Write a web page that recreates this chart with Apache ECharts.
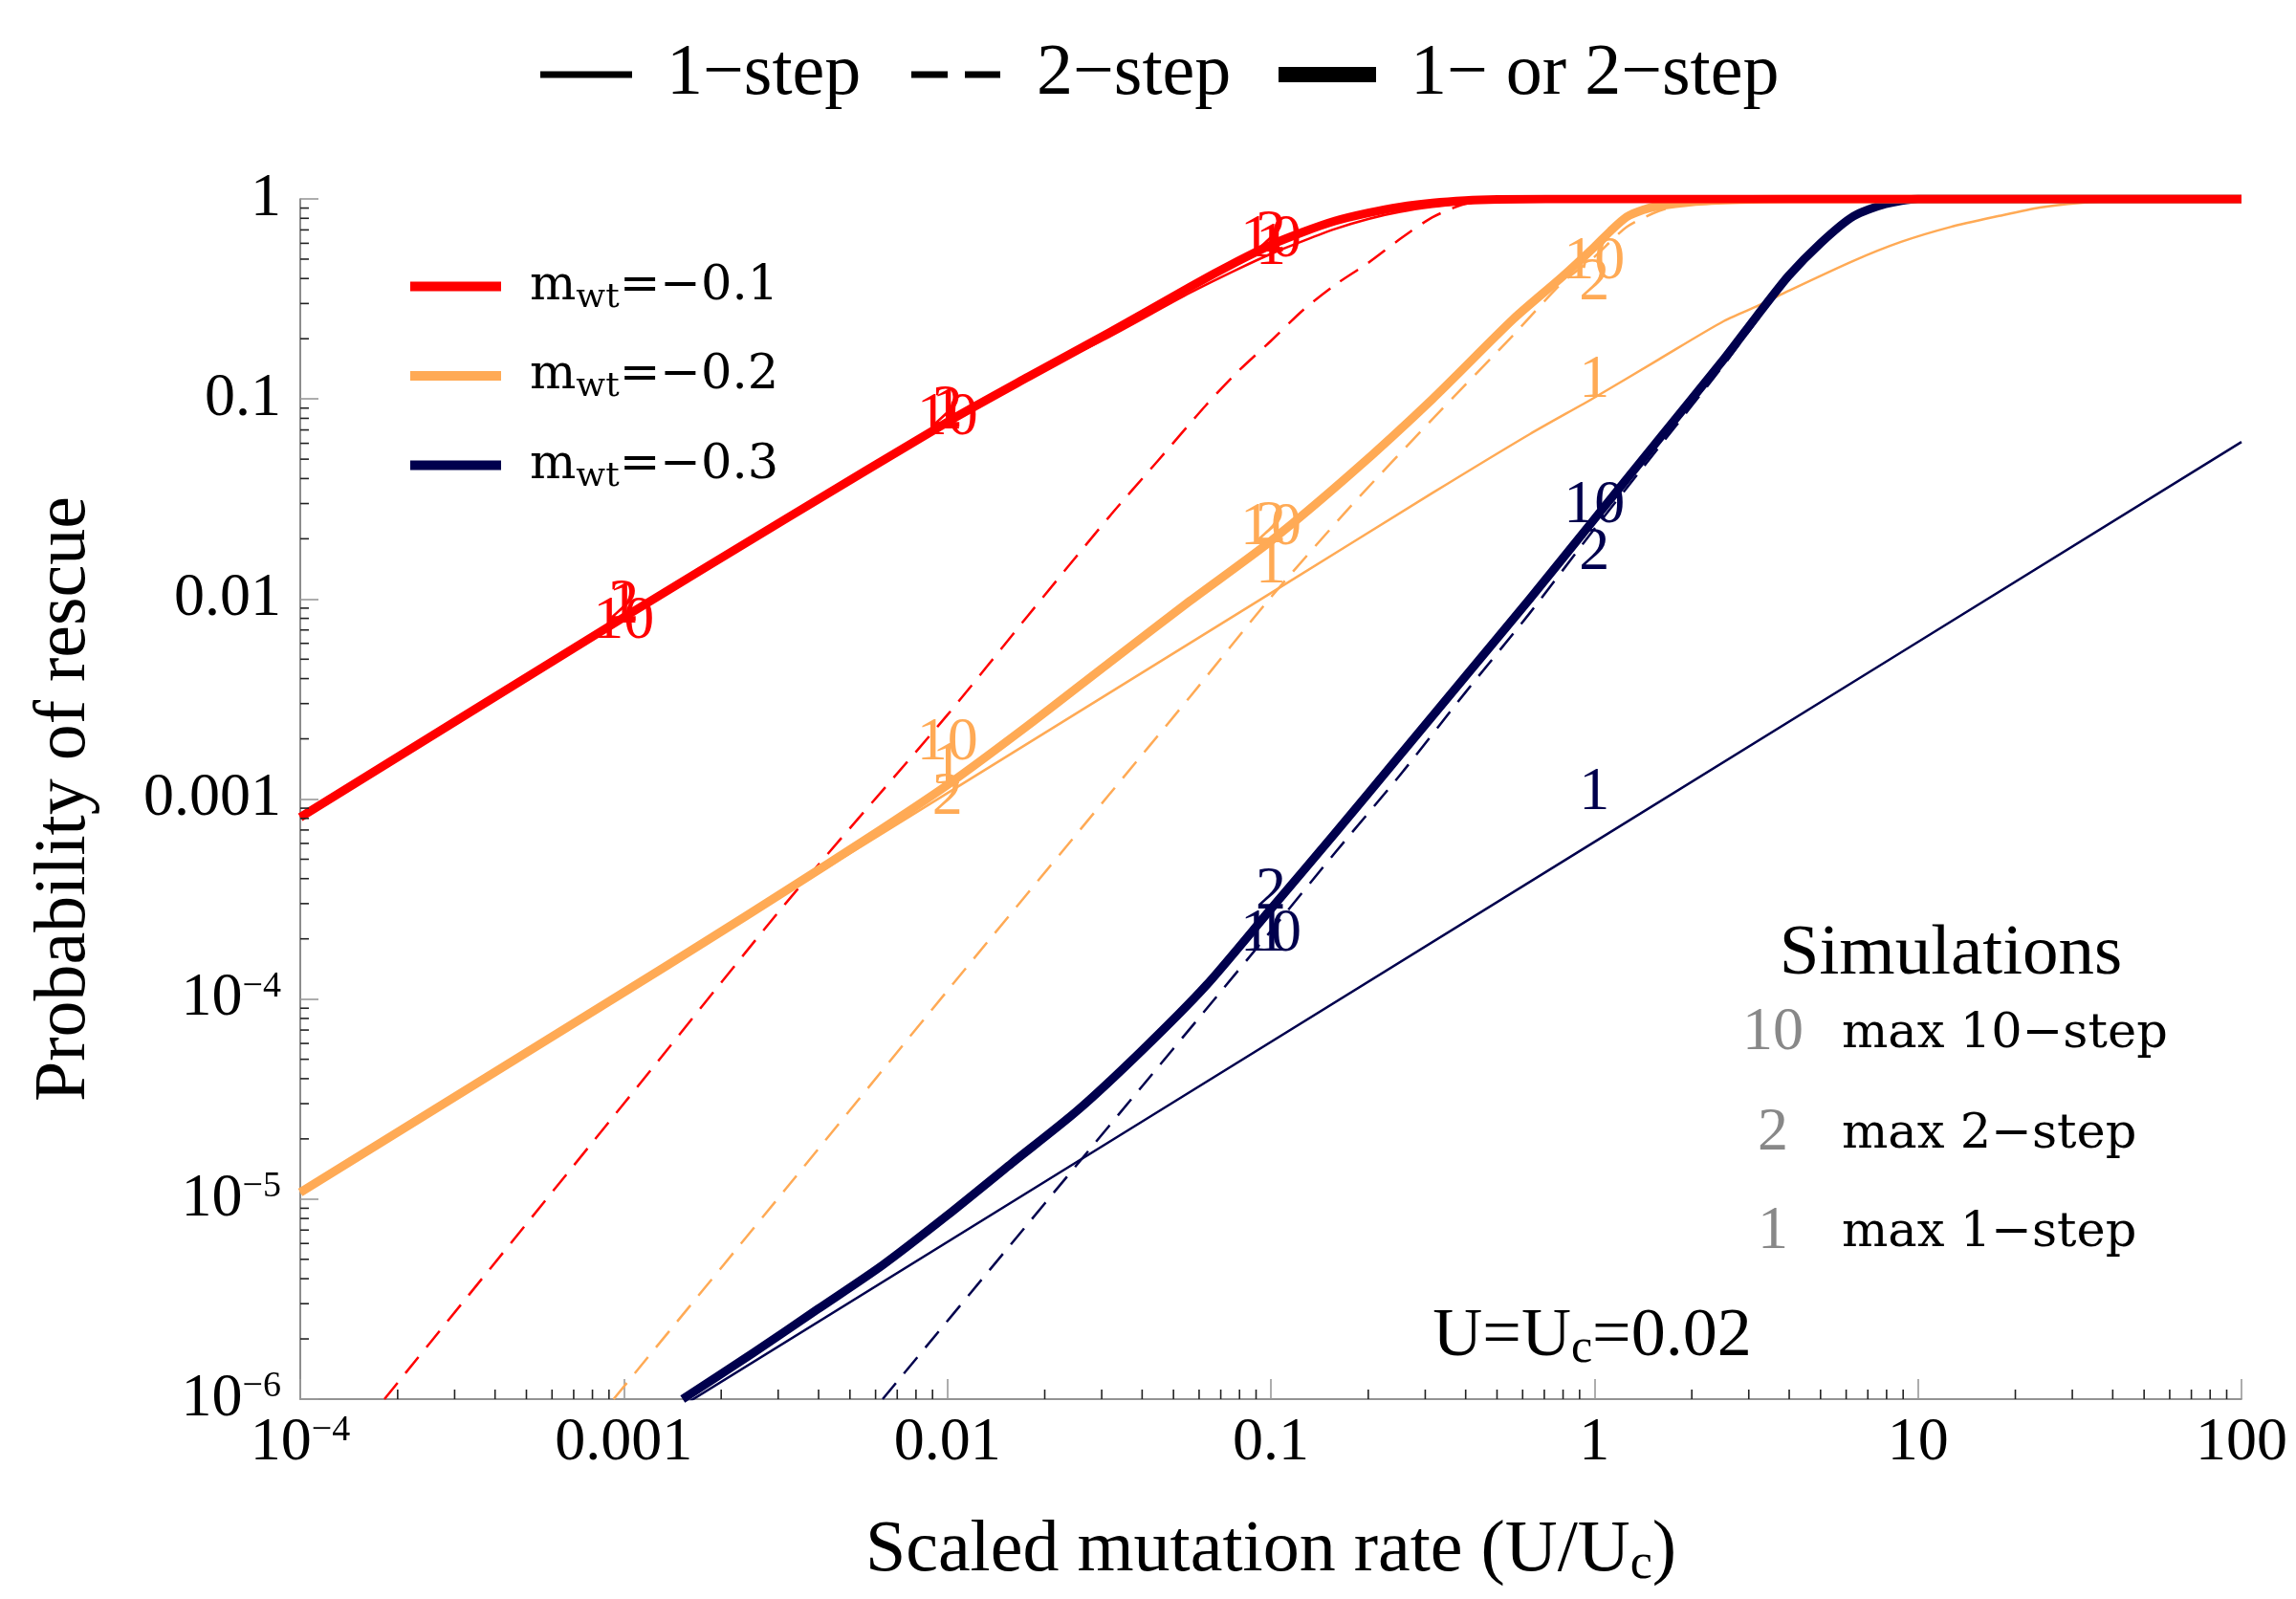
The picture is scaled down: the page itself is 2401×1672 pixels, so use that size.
<!DOCTYPE html>
<html>
<head>
<meta charset="utf-8">
<script src="https://cdn.jsdelivr.net/npm/echarts@6/dist/echarts.min.js"></script>
<style>html,body{margin:0;padding:0;background:#fff}#c{width:2401px;height:1672px}</style>
</head>
<body>
<div id="c"></div>
<script>
// ---------- data ----------
// m_wt = -0.1 (red)
const redBothX = [1e-4, 1e-3, 3.16e-3, 0.01, 0.0178, 0.0316, 0.0562, 0.0794, 0.1, 0.126, 0.158, 0.2, 0.251, 0.316, 0.398, 0.501, 0.708, 100];
const redBothY = [8.1e-4, 8.1e-3, 0.0251, 0.0767, 0.129, 0.214, 0.363, 0.49, 0.589, 0.684, 0.776, 0.851, 0.912, 0.955, 0.982, 0.995, 1, 1];
const redOneX = [1e-4, 1e-3, 3.16e-3, 0.01, 0.0178, 0.0316, 0.0562, 0.0794, 0.1, 0.126, 0.158, 0.2, 0.251, 0.316, 0.398, 0.501, 0.708, 1, 100];
const redOneY = [8.1e-4, 8.1e-3, 0.0251, 0.0767, 0.128, 0.204, 0.339, 0.447, 0.531, 0.617, 0.708, 0.794, 0.861, 0.912, 0.95, 0.977, 0.993, 1, 1];
const redTwoX = [1.82e-4, 1e-3, 3.16e-3, 0.01, 0.0178, 0.0316, 0.0447, 0.0631, 0.0794, 0.1, 0.126, 0.158, 0.2, 0.251, 0.316, 0.398, 0.501, 0.631];
const redTwoY = [1e-6, 3.0e-5, 3.0e-4, 2.63e-3, 8.3e-3, 0.0257, 0.049, 0.0933, 0.138, 0.195, 0.279, 0.372, 0.479, 0.631, 0.81, 0.944, 0.986, 1];
// m_wt = -0.2 (orange)
const orBothX = [1e-4, 1e-3, 1.78e-3, 3.16e-3, 5.62e-3, 0.01, 0.0178, 0.0316, 0.0562, 0.1, 0.178, 0.316, 0.562, 0.794, 1, 1.122, 1.259, 1.413, 1.585, 1.995, 2.818, 3.98, 100];
const orBothY = [1.08e-5, 1.08e-4, 1.93e-4, 3.47e-4, 6.31e-4, 1.175e-3, 2.34e-3, 4.79e-3, 9.77e-3, 0.0195, 0.0427, 0.1, 0.251, 0.407, 0.575, 0.692, 0.813, 0.881, 0.923, 0.966, 0.991, 1, 1];
const orOneX = [1e-4, 0.1, 0.316, 0.631, 1, 1.585, 2.512, 3.29, 3.98, 6.31, 8.87, 12.6, 17.8, 23.8, 31.6, 45.7, 63, 100];
const orOneY = [1.07e-5, 0.0107, 0.0339, 0.0667, 0.1016, 0.158, 0.245, 0.298, 0.347, 0.49, 0.61, 0.724, 0.822, 0.906, 0.955, 0.989, 1, 1];
const orTwoX = [9.3e-4, 3.16e-3, 0.01, 0.0316, 0.0562, 0.1, 0.178, 0.316, 0.562, 0.794, 1, 1.259, 1.585, 1.995, 2.512, 3.162];
const orTwoY = [1e-6, 1.12e-5, 1.1e-4, 1.05e-3, 3.24e-3, 0.0102, 0.0295, 0.0794, 0.209, 0.38, 0.513, 0.724, 0.871, 0.955, 0.989, 1];
// m_wt = -0.3 (navy)
const nvBothX = [0.00152, 0.00251, 0.00398, 0.00631, 0.01, 0.0158, 0.0251, 0.0398, 0.0631, 0.1, 0.158, 0.251, 0.398, 0.631, 1, 1.585, 2.512, 3.162, 3.981, 5.012, 6.31, 7.94, 10, 100];
const nvBothY = [1e-6, 1.7e-6, 2.82e-6, 4.68e-6, 8.3e-6, 1.51e-5, 2.75e-5, 5.5e-5, 1.17e-4, 2.82e-4, 6.76e-4, 1.66e-3, 4.07e-3, 0.01, 0.0251, 0.0631, 0.158, 0.257, 0.412, 0.603, 0.818, 0.944, 1, 1];
const nvOneX = [1e-3, 1, 100];
const nvOneY = [6.1e-7, 6.1e-4, 0.061];
const nvTwoX = [0.00631, 0.0158, 0.0251, 0.0398, 0.0631, 0.1, 0.158, 0.251, 0.398, 0.631, 1, 1.585, 2.512, 3.98, 5.01, 6.31, 7.94, 10];
const nvTwoY = [1e-6, 6.0e-6, 1.48e-5, 3.63e-5, 8.9e-5, 2.19e-4, 5.4e-4, 1.32e-3, 3.39e-3, 8.5e-3, 0.0224, 0.0575, 0.148, 0.398, 0.582, 0.804, 0.933, 1];

// simulation results (labels "10", "2", "1") at these scaled mutation rates
const simX = [0.001, 0.01, 0.1, 1];
const red10 = [0.0077, 0.080, 0.62, null];
const red2  = [0.0094, 0.088, 0.66, null];
const red1  = [0.0092, 0.086, 0.57, null];
const or10  = [null, 0.0019, 0.0225, 0.48];
const or2   = [null, 0.00102, 0.023, 0.38];
const or1   = [null, 0.00145, 0.0145, 0.123];
const nv10  = [null, null, 2.1e-4, 0.029];
const nv2   = [null, null, 3.4e-4, 0.017];
const nv1   = [null, null, 2.1e-4, 0.00107];

// tick labels and minor ticks
const xTickLabels = ['{b|10}{s|\u22124}', '0.001', '0.01', '0.1', '1', '10', '100'];
const yTickLabels = ['{b|10}{s|\u22126}', '{b|10}{s|\u22125}', '{b|10}{s|\u22124}', '0.001', '0.01', '0.1', '1'];
const xMinorTicks = [2e-4,3e-4,4e-4,5e-4,6e-4,7e-4,8e-4,9e-4, 2e-3,3e-3,4e-3,5e-3,6e-3,7e-3,8e-3,9e-3,
  0.02,0.03,0.04,0.05,0.06,0.07,0.08,0.09, 0.2,0.3,0.4,0.5,0.6,0.7,0.8,0.9, 2,3,4,5,6,7,8,9, 20,30,40,50,60,70,80,90];
const yMinorTicks = [2e-6,3e-6,4e-6,5e-6,6e-6,7e-6,8e-6,9e-6, 2e-5,3e-5,4e-5,5e-5,6e-5,7e-5,8e-5,9e-5,
  2e-4,3e-4,4e-4,5e-4,6e-4,7e-4,8e-4,9e-4, 2e-3,3e-3,4e-3,5e-3,6e-3,7e-3,8e-3,9e-3,
  0.02,0.03,0.04,0.05,0.06,0.07,0.08,0.09, 0.2,0.3,0.4,0.5,0.6,0.7,0.8,0.9];

const X_MIN = 1e-4, X_MAX = 100, Y_MIN = 1e-6, Y_MAX = 1;
const RED = '#FF0000', ORANGE = '#FFAA55', NAVY = '#00004D';
const SERIF = '"Liberation Serif", "Times New Roman", serif';
const WIDE = '"DejaVu Serif", serif';

// ---------- helpers ----------
const pairs = (xs, ys) => xs.map((x, i) => [x, ys[i]]);
const simPairs = (ys, txt) => simX.map((x, i) => ys[i] == null ? null : [x, ys[i], txt]).filter(Boolean);

function curve(name, xs, ys, color, kind) {
  const ls = {color: color, width: 2.5, type: 'solid', join: 'round'};
  if (kind === 'both') ls.width = 9;
  if (kind === 'two') ls.type = [22, 13];
  return {
    type: 'line', name: name, data: pairs(xs, ys), showSymbol: false, symbol: 'none',
    smooth: 0.25, color: color, lineStyle: ls, silent: true,
    itemStyle: {color: color}, emphasis: {disabled: true}, z: kind === 'both' ? 4 : 3
  };
}
function sims(color, list) {
  let data = [];
  list.forEach(([ys, t]) => { data = data.concat(simPairs(ys, t)); });
  return {
    type: 'scatter', data: data, symbol: 'circle', symbolSize: 2, itemStyle: {color: 'rgba(0,0,0,0)'}, silent: true, z: 6,
    label: {show: true, position: 'inside', formatter: p => p.data[2], color: color,
      fontFamily: SERIF, fontSize: 64, opacity: 1},
    labelLayout: {hideOverlap: false},
    emphasis: {disabled: true}
  };
}
function tickSeries(values, isX) {
  return {
    type: 'custom', silent: true, z: 5,
    data: values.map(v => isX ? [v, Y_MIN] : [X_MIN, v]),
    encode: {x: 0, y: 1},
    renderItem: (params, api) => {
      const p = api.coord([api.value(0), api.value(1)]);
      const shape = isX ? {x1: p[0], y1: p[1], x2: p[0], y2: p[1] - 10}
                        : {x1: p[0], y1: p[1], x2: p[0] + 9, y2: p[1]};
      return {type: 'line', shape: shape, style: {stroke: '#222', lineWidth: 1.6}};
    }
  };
}
const supRich = {
  b: {fontSize: 64, lineHeight: 64, fontFamily: SERIF, color: '#000'},
  s: {fontSize: 38, lineHeight: 36, fontFamily: SERIF, color: '#000', verticalAlign: 'top'}
};
const expOf = v => Math.round(Math.log10(v));

const NAMES = {r: 'm_wt=\u22120.1', o: 'm_wt=\u22120.2', n: 'm_wt=\u22120.3'};
const legendFmt = {};
legendFmt[NAMES.r] = '{m|m}{s|wt}{m|=\u22120.1}';
legendFmt[NAMES.o] = '{m|m}{s|wt}{m|=\u22120.2}';
legendFmt[NAMES.n] = '{m|m}{s|wt}{m|=\u22120.3}';

const topLegendText = {color: '#000', fontFamily: SERIF, fontSize: 76, lineHeight: 76};

const option = {
  backgroundColor: '#fff',
  animation: false,
  grid: {left: 314, top: 208, width: 2030, height: 1255, outerBoundsMode: 'none', containLabel: false},
  xAxis: {
    type: 'log', logBase: 10, min: X_MIN, max: X_MAX, splitNumber: 6,
    axisLine: {show: true, lineStyle: {color: '#707070', width: 1.6}},
    axisTick: {show: true, inside: true, length: 21, lineStyle: {color: '#999', width: 1.6}},
    minorTick: {show: false}, splitLine: {show: false},
    axisLabel: {margin: 14, color: '#000', fontFamily: SERIF, fontSize: 64, showMinLabel: true, showMaxLabel: true,
      formatter: v => xTickLabels[expOf(v) + 4], rich: supRich},
    name: '{a|Scaled mutation rate (U/U}{s|c}{a|)}', nameLocation: 'middle', nameGap: 119, nameMoveOverlap: false,
    nameTextStyle: {rich: {
      a: {fontSize: 76, lineHeight: 80, fontFamily: SERIF, color: '#000'},
      s: {fontSize: 52, lineHeight: 30, fontFamily: SERIF, color: '#000', verticalAlign: 'bottom'}}}
  },
  yAxis: {
    type: 'log', logBase: 10, min: Y_MIN, max: Y_MAX, splitNumber: 6,
    axisLine: {show: true, lineStyle: {color: '#707070', width: 1.6}},
    axisTick: {show: true, inside: true, length: 19, lineStyle: {color: '#999', width: 1.6}},
    minorTick: {show: false}, splitLine: {show: false},
    axisLabel: {margin: 20, color: '#000', fontFamily: SERIF, fontSize: 64, showMinLabel: true, showMaxLabel: true,
      formatter: v => yTickLabels[expOf(v) + 6], rich: supRich},
    name: 'Probability of rescue', nameLocation: 'middle', nameGap: 208, nameMoveOverlap: false,
    nameTextStyle: {fontFamily: SERIF, fontSize: 76, color: '#000'}
  },
  legend: [
    {data: ['1\u2212step'], left: 560, top: 35, icon: 'rect', itemWidth: 96, itemHeight: 7,
     selectedMode: false, itemStyle: {borderWidth: 0}, textStyle: Object.assign({padding: [0, 0, 0, 31]}, topLegendText)},
    {data: ['2\u2212step'], left: 948, top: 35, icon: 'path://M0,0H38V6H0Z M56,0H93V6H56Z', itemWidth: 93, itemHeight: 7,
     symbolKeepAspect: false, selectedMode: false, itemStyle: {borderWidth: 0}, textStyle: Object.assign({padding: [0, 0, 0, 33]}, topLegendText)},
    {data: ['1\u2212 or 2\u2212step'], left: 1332, top: 35, icon: 'rect', itemWidth: 102, itemHeight: 16,
     selectedMode: false, itemStyle: {borderWidth: 0}, textStyle: Object.assign({padding: [0, 0, 0, 31]}, topLegendText)},
    {data: [NAMES.r, NAMES.o, NAMES.n], orient: 'vertical', left: 424, top: 269, icon: 'rect',
     itemWidth: 95, itemHeight: 10, itemGap: 38, selectedMode: false, itemStyle: {borderWidth: 0},
     formatter: n => legendFmt[n],
     textStyle: {padding: [0, 0, 0, 25], rich: {
       m: {fontSize: 51, lineHeight: 60, fontFamily: WIDE, color: '#000'},
       s: {fontSize: 36, lineHeight: 26, fontFamily: WIDE, color: '#000', verticalAlign: 'bottom'}}}}
  ],
  graphic: [
    {type: 'text', x: 2040, y: 998, silent: true,
     style: {text: 'Simulations', fontFamily: SERIF, fontSize: 75, fill: '#000', align: 'center', verticalAlign: 'middle'}},
    {type: 'text', x: 1854, y: 1080, silent: true,
     style: {text: '10', fontFamily: SERIF, fontSize: 64, fill: '#888', align: 'center', verticalAlign: 'middle'}},
    {type: 'text', x: 1854, y: 1185, silent: true,
     style: {text: '2', fontFamily: SERIF, fontSize: 64, fill: '#888', align: 'center', verticalAlign: 'middle'}},
    {type: 'text', x: 1854, y: 1288, silent: true,
     style: {text: '1', fontFamily: SERIF, fontSize: 64, fill: '#888', align: 'center', verticalAlign: 'middle'}},
    {type: 'text', x: 1926, y: 1082, silent: true,
     style: {text: 'max 10\u2212step', fontFamily: WIDE, fontSize: 51, fill: '#000', align: 'left', verticalAlign: 'middle'}},
    {type: 'text', x: 1926, y: 1187, silent: true,
     style: {text: 'max 2\u2212step', fontFamily: WIDE, fontSize: 51, fill: '#000', align: 'left', verticalAlign: 'middle'}},
    {type: 'text', x: 1926, y: 1290, silent: true,
     style: {text: 'max 1\u2212step', fontFamily: WIDE, fontSize: 51, fill: '#000', align: 'left', verticalAlign: 'middle'}},
    {type: 'text', x: 1665, y: 1398, silent: true,
     style: {text: '{a|U=U}{s|c}{a|=0.02}', align: 'center', verticalAlign: 'middle',
       rich: {a: {fontSize: 72, lineHeight: 76, fontFamily: SERIF, fill: '#000'},
              s: {fontSize: 50, lineHeight: 40, fontFamily: SERIF, fill: '#000', verticalAlign: 'bottom'}}}}
  ],
  series: [
    // legend-only style keys
    {type: 'line', name: '1\u2212step', data: [], color: '#000', itemStyle: {color: '#000'}, lineStyle: {color: '#000'}},
    {type: 'line', name: '2\u2212step', data: [], color: '#000', itemStyle: {color: '#000'}, lineStyle: {color: '#000'}},
    {type: 'line', name: '1\u2212 or 2\u2212step', data: [], color: '#000', itemStyle: {color: '#000'}, lineStyle: {color: '#000'}},
    // navy
    curve('nv1', nvOneX, nvOneY, NAVY, 'one'),
    curve('nv2', nvTwoX, nvTwoY, NAVY, 'two'),
    curve(NAMES.n, nvBothX, nvBothY, NAVY, 'both'),
    // orange
    curve('or1', orOneX, orOneY, ORANGE, 'one'),
    curve('or2', orTwoX, orTwoY, ORANGE, 'two'),
    curve(NAMES.o, orBothX, orBothY, ORANGE, 'both'),
    // red
    curve('red1', redOneX, redOneY, RED, 'one'),
    curve('red2', redTwoX, redTwoY, RED, 'two'),
    curve(NAMES.r, redBothX, redBothY, RED, 'both'),
    // simulation labels
    sims(NAVY, [[nv10, '10'], [nv2, '2'], [nv1, '1']]),
    sims(ORANGE, [[or10, '10'], [or2, '2'], [or1, '1']]),
    sims(RED, [[red10, '10'], [red2, '2'], [red1, '1']]),
    // minor ticks
    tickSeries(xMinorTicks, true),
    tickSeries(yMinorTicks, false)
  ]
};

const chart = echarts.init(document.getElementById('c'), null, {renderer: 'canvas', width: 2401, height: 1672});
chart.setOption(option);
</script>
</body>
</html>
